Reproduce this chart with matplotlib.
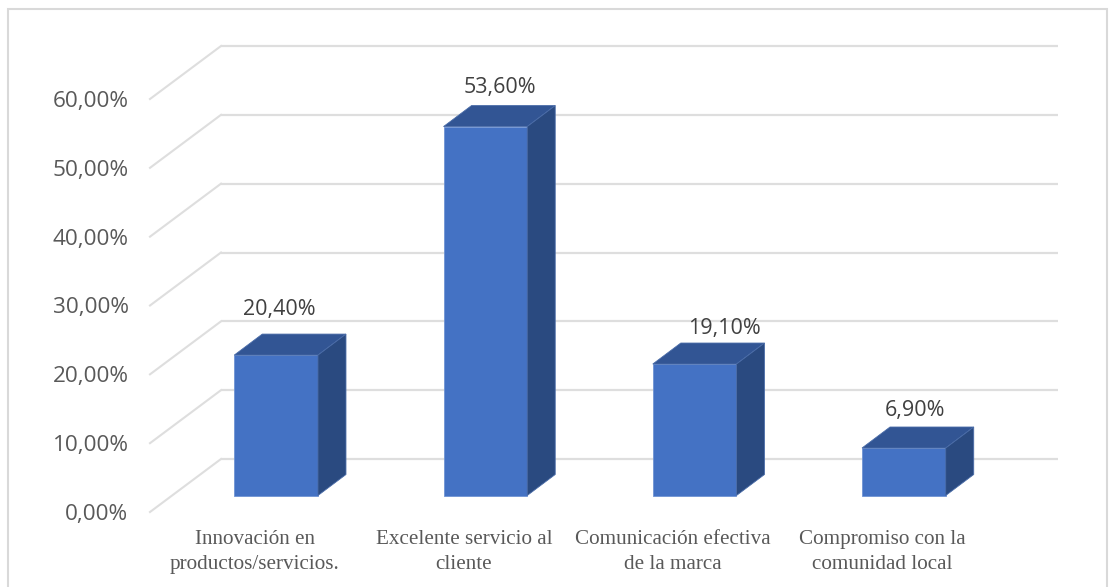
import matplotlib
matplotlib.use('Agg')
import matplotlib.pyplot as plt
from matplotlib.patches import Polygon, Rectangle
from matplotlib.transforms import ScaledTranslation

categories = ['Innovación en\nproductos/servicios.', 'Excelente servicio al\ncliente',
              'Comunicación efectiva\nde la marca', 'Compromiso con la\ncomunidad local']
values = [20.4, 53.6, 19.1, 6.9]
value_labels = ['20,40%', '53,60%', '19,10%', '6,90%']
y_ticks = [0, 10, 20, 30, 40, 50, 60]
y_tick_labels = ['0,00%', '10,00%', '20,00%', '30,00%', '40,00%', '50,00%', '60,00%']

W, H = 1114, 587
fig = plt.figure(figsize=(W / 100, H / 100), dpi=100)
ax = fig.add_axes([150 / W, (H - 512) / H, 837 / W, 413 / H])
ax.set_xlim(-0.5, 3.5)
ax.set_ylim(0, 60)
ax.axis('off')


def shift(dx, dy):
    # offset in pixels on top of data coordinates (fake 3D depth)
    return ax.transData + ScaledTranslation(dx / 100, dy / 100, fig.dpi_scale_trans)


# chart frame
fig.add_artist(Rectangle((8 / W, -0.01), 1099 / W, (H - 9) / H + 0.01, transform=fig.transFigure,
                         fill=False, ec='#d9d9d9', lw=1.5))

# back wall lines and the diagonals on the side wall
back = shift(71, 53)
for t in y_ticks:
    ax.plot([-0.5, 3.5], [t, t], color='#dedede', lw=1.6, transform=back, clip_on=False, zorder=1,
            solid_capstyle='butt')
    x0 = ax.transData.transform((-0.5, t))
    x1 = back.transform((-0.5, t))
    ax.plot([x0[0], x1[0]], [x0[1], x1[1]], color='#dedede', lw=1.5, transform=None, clip_on=False,
            zorder=1)

# bars
bar_w = 0.4
base = shift(21.5, 16.5)
bars = ax.bar(range(4), values, width=bar_w, color='#4472c4', edgecolor='#6f93d3', linewidth=0.6,
              transform=base, clip_on=False, zorder=3)

# the labels were moved by hand in the original, so each has its own nudge
label_dx = [3, 14, 29, 11]
label_dy = [52, 45, 42, 44]

for i, v in enumerate(values):
    left, right = i - bar_w / 2, i + bar_w / 2
    pts = base.transform([(left, v), (right, v), (right, 0)])
    d = (28, 21)
    top = [pts[0], pts[1], pts[1] + d, pts[0] + d]
    side = [pts[1], pts[1] + d, pts[2] + d, pts[2]]
    ax.add_patch(Polygon(top, closed=True, fc='#325594', ec='#4a6ca8', lw=0.6, transform=None,
                         clip_on=False, zorder=3))
    ax.add_patch(Polygon(side, closed=True, fc='#2a4a80', ec='#4a6ca8', lw=0.6, transform=None,
                         clip_on=False, zorder=3))
    ax.text(i, v, value_labels[i], transform=shift(22 + label_dx[i], label_dy[i]), ha='center',
            va='bottom', fontsize=15.5, family='Open Sans', color='#404040', zorder=4)

# tick labels
for t, lab in zip(y_ticks, y_tick_labels):
    ax.text(-0.5, t, lab, transform=shift(-21.5, -2.5), ha='right', va='center', fontsize=16.2,
            family='Open Sans', color='#595959')

for i, c in enumerate(categories):
    ax.text(i, 0, c, transform=shift(0, -18), ha='center', va='top', fontsize=15.2,
            family='Liberation Serif', color='#595959', linespacing=1.43)

fig.savefig('out.png', dpi=100)
